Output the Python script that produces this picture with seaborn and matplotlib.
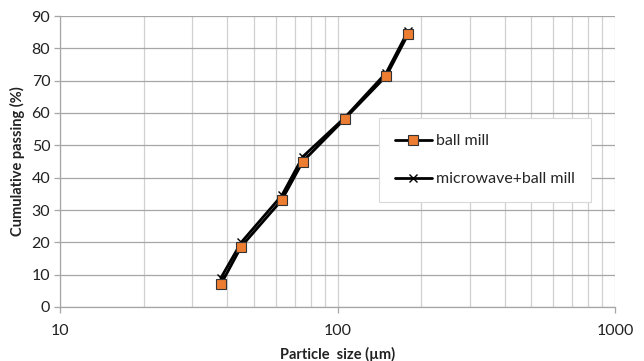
import numpy as np
import pandas as pd
import matplotlib
matplotlib.use("Agg")
import matplotlib.pyplot as plt
import seaborn as sns

size_um = [38, 45, 63, 75, 106, 150, 180]
ball_mill = [7.0, 18.7, 33.1, 45.0, 58.1, 71.5, 84.5]
microwave_ball_mill = [9.0, 20.0, 34.5, 46.5, 58.5, 72.5, 85.5]

sns.set_theme(style="white")
plt.rcParams['font.family'] = ['Lato', 'DejaVu Sans']

df = pd.DataFrame({
    "size": size_um * 2,
    "passing": ball_mill + microwave_ball_mill,
    "series": ["ball mill"] * len(size_um) + ["microwave+ball mill"] * len(size_um),
})

fig = plt.figure(figsize=(6.44, 3.61), dpi=100)
ax = fig.add_axes([60/644, 1 - 307/361, (615-60)/644, (307-16)/361])

sub_m = df[df.series == "microwave+ball mill"]
sub_b = df[df.series == "ball mill"]
sns.lineplot(data=sub_m, x="size", y="passing", ax=ax, color="black", lw=2.0,
             marker="x", markersize=6, markeredgecolor="black", markeredgewidth=1.0,
             label="microwave+ball mill", zorder=3)
sns.lineplot(data=sub_b, x="size", y="passing", ax=ax, color="black", lw=2.0,
             marker="s", markersize=7, markerfacecolor="#ed7d31", markeredgecolor="#333333",
             markeredgewidth=0.8, label="ball mill", zorder=4)

ax.set_xscale("log")
ax.set_xlim(10, 1000)
ax.set_ylim(0, 90)
ax.set_yticks(range(0, 91, 10))
ax.set_xticks([10, 100, 1000])
ax.set_xticklabels(["10", "100", "1000"])
ax.xaxis.set_minor_locator(matplotlib.ticker.LogLocator(base=10, subs=np.arange(2, 10)))
ax.xaxis.set_minor_formatter(matplotlib.ticker.NullFormatter())

ax.grid(True, axis="y", which="major", color="#a6a6a6", lw=0.9)
ax.grid(True, axis="x", which="both", color="#d0d0d0", lw=0.9)
ax.set_axisbelow(True)

for s in ["top", "right"]:
    ax.spines[s].set_visible(False)
for s in ["left", "bottom"]:
    ax.spines[s].set_color("#a6a6a6")
    ax.spines[s].set_linewidth(0.9)
ax.tick_params(axis="both", which="major", direction="out", length=4, color="#a6a6a6",
               labelsize=11.5, labelcolor="#222222", bottom=True, left=True, width=0.9)
ax.tick_params(axis="x", which="minor", bottom=False)
ax.tick_params(axis="x", pad=8)
ax.tick_params(axis="y", pad=3)

ax.set_xlabel("Particle  size (µm)", fontsize=10.5, fontweight="bold", color="#222222", labelpad=7)
ax.set_ylabel("Cumulative passing (%)", fontsize=10.5, fontweight="bold", color="#222222", labelpad=5)

handles, labels = ax.get_legend_handles_labels()
order = [labels.index("ball mill"), labels.index("microwave+ball mill")]
leg = ax.legend([handles[i] for i in order], [labels[i] for i in order],
                loc="upper left", bbox_to_anchor=((379-60)/555, (307-118)/291),
                frameon=True, fancybox=False, fontsize=11.5, handlelength=2.3,
                labelspacing=1.5, borderpad=1.0, handletextpad=0.3, borderaxespad=0)
leg.get_frame().set_edgecolor("#d9d9d9")
leg.get_frame().set_linewidth(0.8)
leg.get_frame().set_alpha(1.0)

fig.savefig("out.png", dpi=100)
